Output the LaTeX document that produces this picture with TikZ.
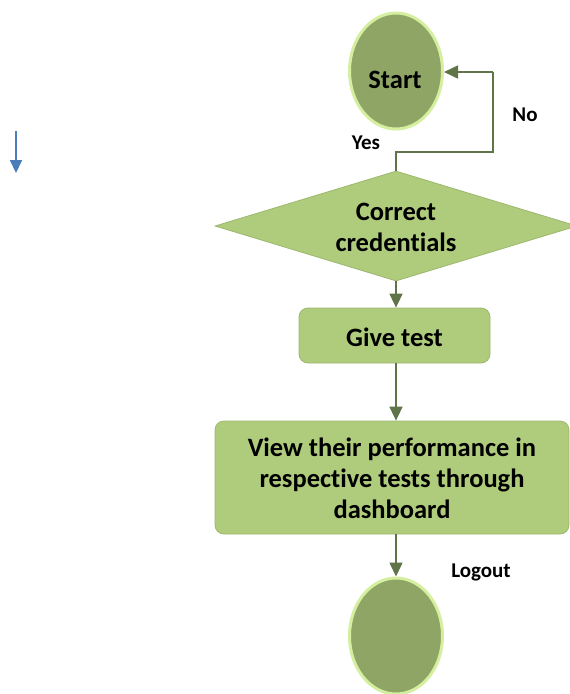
\documentclass[tikz,border=0pt]{standalone}
\usepackage{fontspec}
\setmainfont{Carlito}[Ligatures=NoCommon]
\usetikzlibrary{shapes.geometric,arrows.meta}
\definecolor{ovalfill}{HTML}{8FA565}
\definecolor{ovalrim}{HTML}{D5EFA0}
\definecolor{boxfill}{HTML}{AFCB7C}
\definecolor{boxrim}{HTML}{9DB86E}
\definecolor{conn}{HTML}{5F7448}
\definecolor{bluearrow}{HTML}{4A7EBB}
\tikzset{
  oval/.style={ellipse, fill=ovalfill, draw=ovalrim, line width=3pt, minimum width=93pt, minimum height=116pt, inner sep=0pt},
  decision/.style={diamond, fill=boxfill, draw=boxrim, line width=0.8pt, aspect=3.3, minimum width=362pt, minimum height=110pt, inner sep=0pt},
  procbox/.style={rectangle, rounded corners=9pt, fill=boxfill, draw=boxrim, line width=0.8pt, inner sep=0pt, align=center},
  lbl/.style={font=\fontsize{26.5}{31}\selectfont\bfseries, align=center, inner sep=0pt},
  small/.style={font=\fontsize{21}{24}\selectfont\bfseries, inner sep=0pt},
  flow/.style={draw=conn, line width=1.6pt, -{Triangle[length=14pt,width=13pt]}}
}
\begin{document}
\begin{tikzpicture}[x=1pt,y=-1pt]
\useasboundingbox (0,0) rectangle (570,694);
\clip (0,0) rectangle (570,694);
% nodes
\node[oval] (start) at (396,71) {};
\node[lbl] (starttxt) at (395,80) {Start};
\node[decision] (cred) at (396,226) {};
\node[lbl] (credtxt) at (396,227) {Correct\\credentials};
\node[procbox, minimum width=191pt, minimum height=55pt] (give) at (394.5,335.5) {};
\node[lbl] (givetxt) at (394.5,337) {Give test};
\node[procbox, minimum width=354pt, minimum height=113pt] (view) at (392,477.5) {};
\node[lbl] (viewtxt) at (392,478) {View their performance in\\respective tests through\\dashboard};
\node[oval] (finish) at (396,636) {};
% labels
\node[small] (yes) at (366,143) {Yes};
\node[small] (no) at (525,115) {No};
\node[small] (logout) at (481,572) {Logout};
% connectors
\coordinate (loopa) at (396,152);
\coordinate (loopb) at (493,152);
\coordinate (loopc) at (493,72);
\draw[conn, line width=1.6pt] (cred.north) -- (loopa) -- (loopb) -- (loopc);
\draw[flow] (loopc) -- (start.east |- loopc);
\draw[flow] (cred.south) -- (cred.south |- give.north);
\draw[flow] (cred.south |- give.south) -- (cred.south |- view.north);
\draw[flow] (view.south -| finish.north) -- (finish.north);
% stray blue arrow
\coordinate (bluetop) at (16,131);
\coordinate (bluetip) at (16,173);
\draw[draw=bluearrow, fill=bluearrow, line width=2pt, -{Triangle[length=13pt,width=12pt]}] (bluetop) -- (bluetip);
\end{tikzpicture}
\end{document}
